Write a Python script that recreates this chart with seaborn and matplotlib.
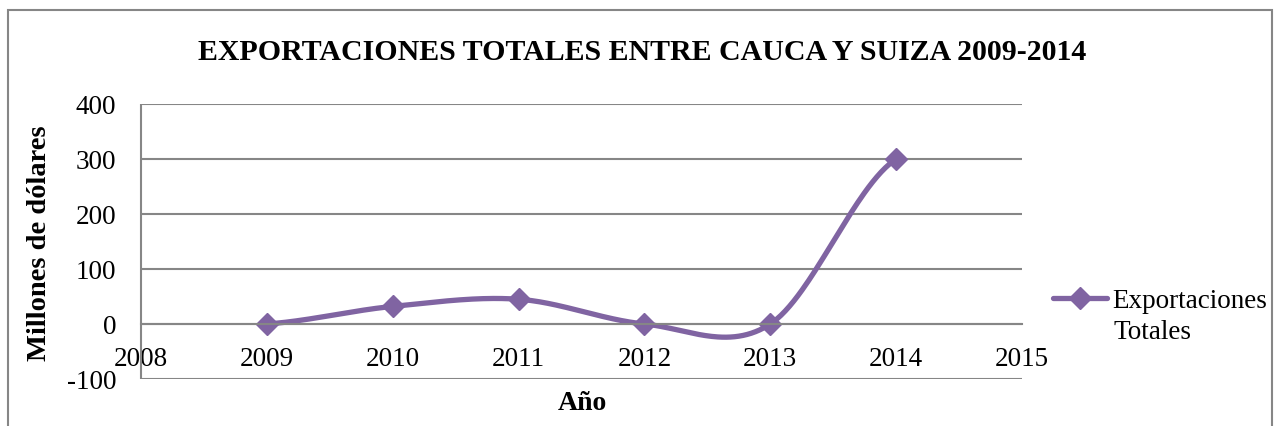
import matplotlib.pyplot as plt
from matplotlib.lines import Line2D
from matplotlib.patches import Rectangle
import numpy as np
import pandas as pd
import seaborn as sns

years = [2009, 2010, 2011, 2012, 2013, 2014]
exports = [0, 32, 45, 0, 0, 300]
x_ticks = [2008, 2009, 2010, 2011, 2012, 2013, 2014, 2015]
y_ticks = [-100, 0, 100, 200, 300, 400]

purple = "#8064A2"
grid_gray = "#868686"

sns.set_theme(style="white")
plt.rcParams['font.family'] = ['Liberation Serif', 'DejaVu Serif']
plt.rcParams['text.color'] = 'black'


def smooth(xs, ys, n=60):
    # Catmull-Rom style curve through the points, like Excel's smoothed line
    out_x, out_y = [], []
    for i in range(len(xs) - 1):
        y0, y1 = ys[i], ys[i + 1]
        ym = ys[i - 1] if i > 0 else ys[i]
        yp = ys[i + 2] if i + 2 < len(ys) else ys[i + 1]
        m0 = (y1 - ym) / 2
        m1 = (yp - y0) / 2
        t = np.linspace(0, 1, n, endpoint=(i == len(xs) - 2))
        h00 = 2 * t**3 - 3 * t**2 + 1
        h10 = t**3 - 2 * t**2 + t
        h01 = -2 * t**3 + 3 * t**2
        h11 = t**3 - t**2
        out_x.extend(xs[i] + t * (xs[i + 1] - xs[i]))
        out_y.extend(h00 * y0 + h10 * m0 + h01 * y1 + h11 * m1)
    return pd.DataFrame({"x": out_x, "y": out_y})


curve = smooth(years, exports)

fig = plt.figure(figsize=(12.76, 4.27), dpi=100)
ax = fig.add_axes([141 / 1276, 1 - 380 / 427, (1022 - 141) / 1276, (380 - 105) / 427])

sns.lineplot(data=curve, x="x", y="y", ax=ax, color=purple, linewidth=3.8,
             estimator=None, sort=False, legend=False)
ax.plot(years, exports, linestyle="none", marker="D", markersize=11,
        color=purple, markeredgecolor=purple)

# spine position first: it resets the ticks
for side in ["top", "right"]:
    ax.spines[side].set_visible(False)
ax.spines["left"].set_color(grid_gray)
ax.spines["left"].set_linewidth(1.5)
ax.spines["left"].set_capstyle("butt")
ax.spines["bottom"].set_position(("data", 0))
ax.spines["bottom"].set_color(grid_gray)
ax.spines["bottom"].set_linewidth(1.5)

ax.set_xlim(2008, 2015)
ax.set_ylim(-100, 400)
ax.set_xticks(x_ticks)
ax.set_yticks(y_ticks)
ax.set_xticklabels([str(v) for v in x_ticks], fontsize=19.5)
ax.set_yticklabels([str(v) for v in y_ticks], fontsize=19.5)
ax.tick_params(axis="both", which="both", length=0, width=0, labelcolor="black")
ax.tick_params(axis="y", pad=18)
ax.tick_params(axis="x", pad=16)

ax.yaxis.grid(True, color=grid_gray, linewidth=1.5)
ax.xaxis.grid(False)
ax.set_xlabel("")
ax.set_ylabel("")

fig.text(642 / 1276, 1 - 53 / 427, "EXPORTACIONES TOTALES ENTRE CAUCA Y SUIZA 2009-2014",
         ha="center", va="center", fontsize=21.5, fontweight="bold", color="black")
fig.text(40 / 1276, 1 - 243 / 427, "Millones de dólares", rotation=90,
         ha="center", va="center", fontsize=20.5, fontweight="bold", color="black")
fig.text(582 / 1276, 1 - 404 / 427, "Año", ha="center", va="center",
         fontsize=20, fontweight="bold", color="black")

handle = Line2D([], [], color=purple, linewidth=3.8, marker="D", markersize=11)
fig.legend(handles=[handle], labels=["Exportaciones"], loc="center left",
           bbox_to_anchor=(1053 / 1276, 1 - 302 / 427), frameon=False,
           fontsize=19.5, handlelength=2.0, handletextpad=0.2,
           borderpad=0, borderaxespad=0, labelcolor="black")
fig.text(1113 / 1276, 1 - 333 / 427, "Totales", ha="left", va="center",
         fontsize=19.5, color="black")

fig.patches.append(Rectangle((8 / 1276, -0.05), (1272 - 8) / 1276, 1.05 - 11 / 427,
                             transform=fig.transFigure, fill=False,
                             edgecolor=grid_gray, linewidth=1.5))

fig.savefig("out.png", dpi=100)
